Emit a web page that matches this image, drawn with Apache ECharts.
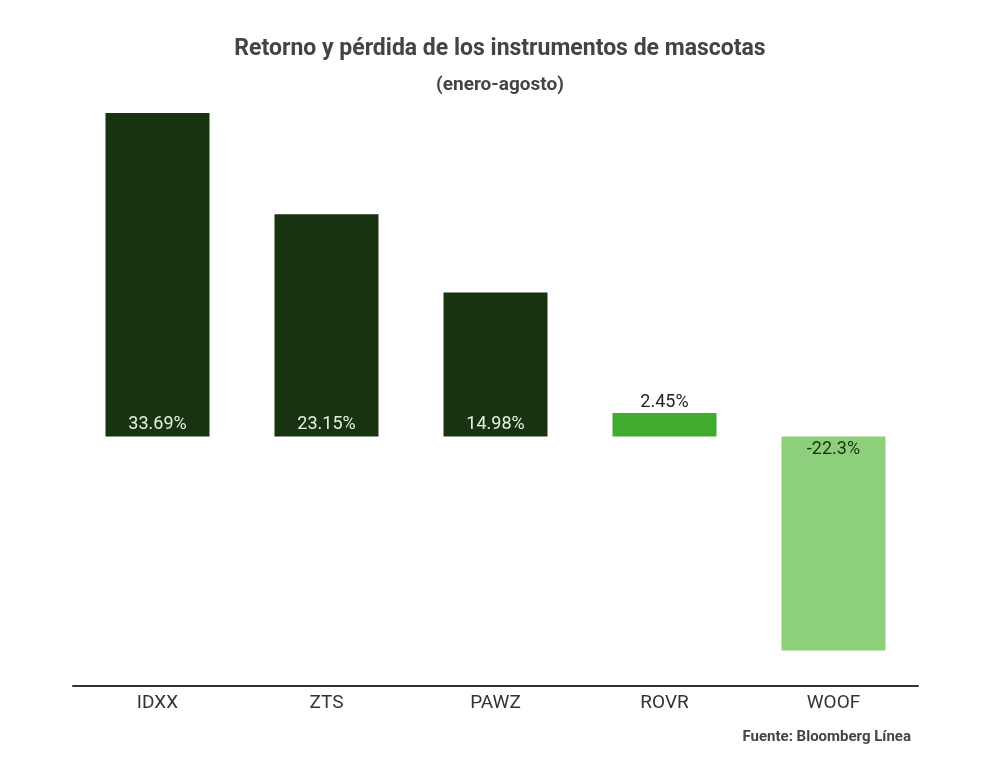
<!DOCTYPE html>
<html lang="es">
<head>
    <meta charset="UTF-8">
    <title>Retorno y pérdida de los instrumentos de mascotas</title>
    <script src="https://cdn.jsdelivr.net/npm/echarts@6/dist/echarts.min.js"></script>
    <style>
        html, body { margin: 0; padding: 0; background: #fff; }
        #chart { width: 1000px; height: 765px; }
    </style>
</head>
<body>
<div id="chart"></div>
<script>
  // datos
  var categories = ['IDXX', 'ZTS', 'PAWZ', 'ROVR', 'WOOF'];
  var returns = [33.69, 23.15, 14.98, 2.45, -22.3];
  var labelTexts = ['33.69%', '23.15%', '14.98%', '2.45%', '-22.3%'];

  var barColors = ['#17330f', '#17330f', '#17330f', '#41ab2f', '#8dcf7b'];
  var labelPos = ['insideBottom', 'insideBottom', 'insideBottom', 'top', 'insideTop'];
  var labelColors = ['#e8f0e4', '#e8f0e4', '#e8f0e4', '#222', '#17330f'];

  var seriesData = returns.map(function(v, i) {
    return {
      value: v,
      itemStyle: { color: barColors[i] },
      label: {
        show: true,
        position: labelPos[i],
        distance: labelPos[i] === 'top' ? 1 : (labelPos[i] === 'insideTop' ? 4 : 3),
        color: labelColors[i],
        formatter: labelTexts[i]
      }
    };
  });

  var myChart = echarts.init(document.getElementById('chart'));
  myChart.setOption({
    animation: false,
    textStyle: { fontFamily: 'Roboto' },
    title: [
      {
        text: 'Retorno y pérdida de los instrumentos de mascotas',
        left: 'center',
        top: 33,
        textStyle: { fontSize: 23, fontWeight: 'bold', color: '#444' }
      },
      {
        text: '(enero-agosto)',
        left: 'center',
        top: 71,
        textStyle: { fontSize: 19, fontWeight: 'bold', color: '#444' }
      },
      {
        text: 'Fuente: Bloomberg Línea',
        right: 84,
        top: 725,
        textStyle: { fontSize: 15, fontWeight: 'bold', color: '#444' }
      }
    ],
    grid: {
      left: 73,
      right: 82,
      top: 113,
      bottom: 79
    },
    xAxis: {
      type: 'category',
      data: categories,
      position: 'bottom',
      axisLine: {
        onZero: false,
        lineStyle: { color: '#333', width: 2 }
      },
      axisTick: { show: false },
      axisLabel: {
        fontSize: 19,
        color: '#333',
        margin: 8
      }
    },
    yAxis: {
      type: 'value',
      min: -26,
      max: 33.69,
      show: false,
      splitLine: { show: false }
    },
    series: [
      {
        type: 'bar',
        barWidth: 104,
        data: seriesData,
        label: { fontSize: 18 }
      }
    ]
  });
</script>
</body>
</html>
